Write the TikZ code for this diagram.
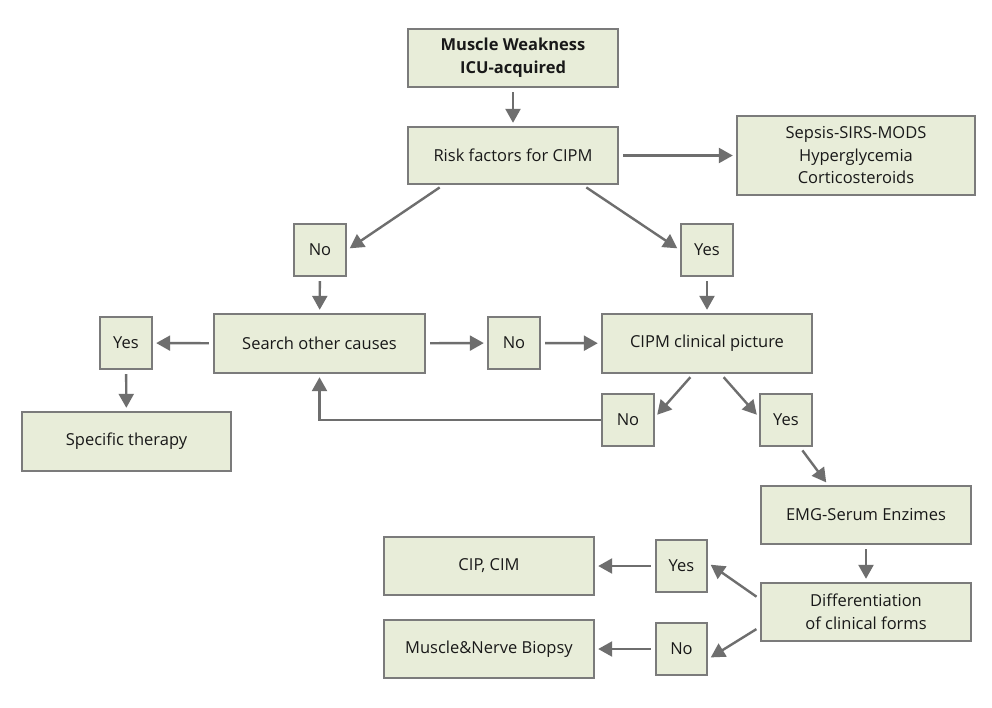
\documentclass[tikz,border=0pt]{standalone}
\usepackage{fontspec}
\setmainfont{Open Sans}
\usetikzlibrary{arrows.meta,calc}
\definecolor{boxfill}{HTML}{E8EDD9}
\definecolor{boxline}{HTML}{7B7B7B}
\definecolor{arrcol}{HTML}{6E6E6E}
\tikzset{
  box/.style={draw=boxline, fill=boxfill, line width=2.4pt, align=center, inner sep=0pt,
    font=\fontsize{16.5}{22.5}\selectfont, text=black!90},
  smallbox/.style={box, minimum width=52pt, minimum height=52pt},
  arr/.style={draw=arrcol, line width=2.4pt, -{Triangle[length=14pt,width=15pt]}, shorten >=3pt, shorten <=4pt},
}
\begin{document}
\begin{tikzpicture}[x=1pt,y=-1pt]
\useasboundingbox (0,0) rectangle (992,707);
\fill[white] (0,0) rectangle (992,707);
% boxes
\node[box, minimum width=210pt, minimum height=58pt, font=\fontsize{16.5}{23}\selectfont\bfseries] (mw) at (513,58) {Muscle Weakness\\ICU-acquired};
\node[box, minimum width=210pt, minimum height=57pt] (risk) at (513,155.5) {Risk factors for CIPM};
\node[box, minimum width=238pt, minimum height=79pt] (sepsis) at (856,155.5) {Sepsis-SIRS-MODS\\Hyperglycemia\\Corticosteroids};
\node[smallbox] (no1) at (320,250) {No};
\node[smallbox] (yes1) at (707,250) {Yes};
\node[box, minimum width=211pt, minimum height=59pt] (search) at (319.5,343.5) {Search other causes};
\node[smallbox] (yes2) at (126,343) {Yes};
\node[smallbox] (no2) at (514,343) {No};
\node[box, minimum width=210pt, minimum height=59pt] (cipm) at (707,343.5) {CIPM clinical picture};
\node[box, minimum width=209pt, minimum height=59pt] (spec) at (126.5,441.5) {Specific therapy};
\node[smallbox] (no3) at (628,420) {No};
\node[smallbox] (yes3) at (786,420) {Yes};
\node[box, minimum width=210pt, minimum height=58pt] (emg) at (866,515) {EMG-Serum Enzimes};
\node[box, minimum width=210pt, minimum height=58pt] (diff) at (866,612) {Differentiation\\of clinical forms};
\node[smallbox, minimum width=51pt] (yes4) at (681.5,566) {Yes};
\node[smallbox, minimum width=51pt] (no4) at (681.5,649) {No};
\node[box, minimum width=210pt, minimum height=58pt] (cip) at (489,566) {CIP, CIM};
\node[box, minimum width=210pt, minimum height=58pt] (mnb) at (489,649) {Muscle\&Nerve Biopsy};
% connectors
\draw[arr] (mw) -- (risk);
\draw[arr] (risk) -- (sepsis);
\draw[arr] ([xshift=-70pt]risk.south) -- (no1.east);
\draw[arr] ([xshift=70pt]risk.south) -- (yes1.west);
\draw[arr] (no1) -- (search);
\draw[arr] (yes1) -- (cipm);
\draw[arr] (search) -- (yes2);
\draw[arr] (yes2) -- (spec);
\draw[arr] (search) -- (no2);
\draw[arr] (no2) -- (cipm);
\draw[arr] ([xshift=-14pt]cipm.south) -- ([yshift=3pt]no3.east);
\draw[arr] ([xshift=14pt]cipm.south) -- ([yshift=3pt]yes3.west);
\draw[arr, shorten <=0pt] (no3.west) -| (search.south);
\draw[arr] ([xshift=14pt]yes3.south) -- ([xshift=-38pt]emg.north);
\draw[arr] (emg) -- (diff);
\draw[arr] ([yshift=13pt]diff.west) -- ([yshift=3pt]yes4.east);
\draw[arr] ([yshift=-15pt]diff.west) -- ([yshift=-10pt]no4.east);
\draw[arr] (yes4) -- (cip);
\draw[arr] (no4) -- (mnb);
\end{tikzpicture}
\end{document}
